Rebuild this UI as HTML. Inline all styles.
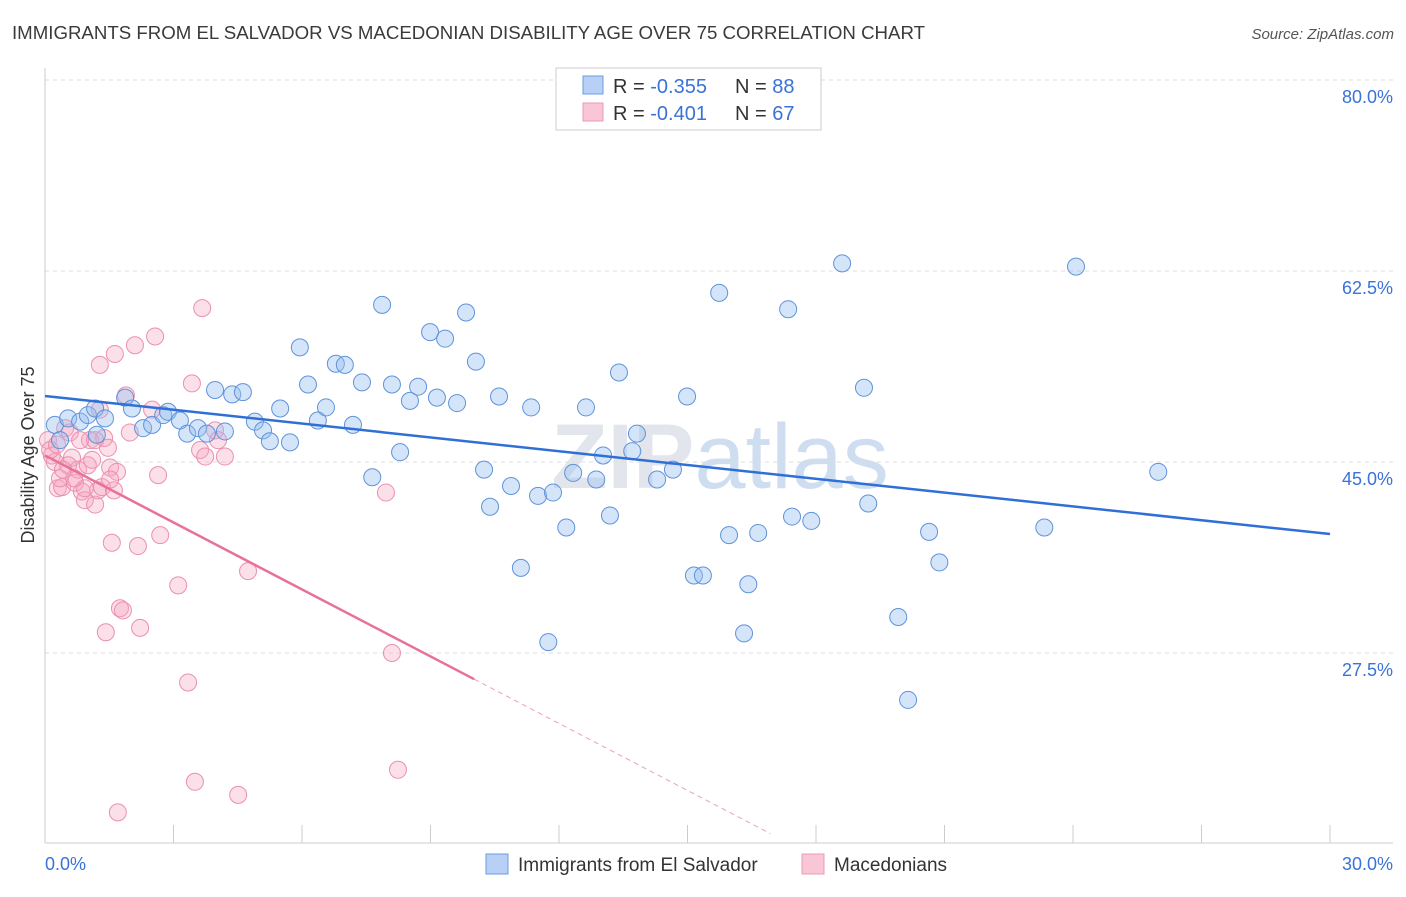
<!DOCTYPE html>
<html><head><meta charset="utf-8"><style>
body{margin:0;background:#fff;font-family:"Liberation Sans",sans-serif}
svg text{font-family:"Liberation Sans",sans-serif}
</style></head><body>
<svg id="chart" width="1406" height="892" xmlns="http://www.w3.org/2000/svg">
<text x="12" y="39" font-size="18" fill="#3a3a3a" textLength="913" lengthAdjust="spacingAndGlyphs">IMMIGRANTS FROM EL SALVADOR VS MACEDONIAN DISABILITY AGE OVER 75 CORRELATION CHART</text>
<text x="1394" y="39" font-size="15" fill="#555" font-style="italic" text-anchor="end">Source: ZipAtlas.com</text>
<text x="720" y="488" font-size="92" fill="#d3d9e3" opacity="0.65" text-anchor="middle" font-family="Liberation Serif"><tspan font-weight="bold">ZIP</tspan><tspan fill="#b5cbe8">atlas</tspan></text>
<g id="grid"></g><g id="axes"></g><g id="pinkPts"></g><g id="bluePts"></g><g id="trends"></g>
<text transform="translate(34,455) rotate(-90)" font-size="18" fill="#333" text-anchor="middle">Disability Age Over 75</text>
<g>
<rect x="556" y="68" width="265" height="62" fill="#fff" stroke="#ccc"/>
<rect x="583" y="76" width="20" height="18" fill="#b8d0f5" stroke="#6a9be0"/>
<rect x="583" y="103" width="20" height="18" fill="#f9c6d6" stroke="#e99ab5"/>
<text x="613" y="93" font-size="20" fill="#333">R = <tspan fill="#3a72d8">-0.355</tspan></text>
<text x="735" y="93" font-size="20" fill="#333">N = <tspan fill="#3a72d8">88</tspan></text>
<text x="613" y="120" font-size="20" fill="#333">R = <tspan fill="#3a72d8">-0.401</tspan></text>
<text x="735" y="120" font-size="20" fill="#333">N = <tspan fill="#3a72d8">67</tspan></text>
</g>
<g>
<rect x="486" y="854" width="22" height="20" fill="#b8d0f5" stroke="#6a9be0"/>
<text x="518" y="871" font-size="19" fill="#333">Immigrants from El Salvador</text>
<rect x="802" y="854" width="22" height="20" fill="#f9c6d6" stroke="#e99ab5"/>
<text x="834" y="871" font-size="19" fill="#333">Macedonians</text>
</g>
</svg>
<script>
const yTicks=[80,62.5,45,27.5];
const yTickLabels=["80.0%","62.5%","45.0%","27.5%"];
const xTickVals=[0,3,6,9,12,15,18,21,24,27,30];
const xEndLabels=["0.0%","30.0%"];
const blueX=[.23,.54,.35,.82,1.0,1.17,1.4,1.21,1.87,2.03,2.29,2.5,2.76,2.87,3.15,3.32,3.57,3.78,3.97,4.2,4.37,4.62,4.9,5.09,5.25,5.49,5.72,5.95,6.14,6.37,6.56,6.79,7.0,7.19,7.4,7.64,7.87,8.1,8.29,8.52,8.71,8.99,9.15,9.34,9.62,9.83,10.06,10.25,10.39,10.6,10.88,11.11,11.35,11.51,11.75,11.86,12.17,12.33,12.63,12.87,13.03,13.19,13.4,13.71,13.82,14.29,14.66,14.99,15.15,15.36,15.74,15.97,16.32,16.42,16.65,17.35,17.44,17.89,18.61,19.12,19.22,19.92,20.15,20.64,20.88,23.33,24.07,25.99];
const blueY=[48.4,49.0,47.0,48.7,49.3,49.9,49.0,47.5,50.9,49.9,48.1,48.4,49.3,49.6,48.8,47.6,48.1,47.6,51.6,47.8,51.2,51.4,48.7,47.9,46.9,49.9,46.8,55.5,52.1,48.8,50.0,54.0,53.9,48.4,52.3,43.6,59.4,52.1,45.9,50.6,51.9,56.9,50.9,56.3,50.4,58.7,54.2,44.3,40.9,51.0,42.8,35.3,50.0,41.9,28.5,42.2,39.0,44.0,50.0,43.4,45.6,40.1,53.2,46.0,47.6,43.4,44.3,51.0,34.6,34.6,60.5,38.3,29.3,33.8,38.5,59.0,40.0,39.6,63.2,51.8,41.2,30.8,23.2,38.6,35.8,39.0,62.9,44.1];
const pinkX=[.07,.16,.23,.3,.4,.35,.47,.58,.63,.7,.77,.86,.93,1.0,1.05,1.1,1.17,1.24,1.28,1.33,1.38,1.42,1.47,1.52,1.56,1.61,1.63,1.68,1.7,1.75,1.82,1.89,1.98,2.1,2.17,2.22,2.5,2.57,2.64,2.69,3.11,3.34,3.43,3.5,3.62,3.67,3.74,3.97,4.04,4.2,4.51,4.74,7.96,8.1,8.24,.12,.28,.54,.82,.93,1.17,1.28,.68,.42,1.52];
const pinkY=[47.0,45.6,45.0,42.6,42.7,43.5,48.1,47.7,45.4,43.1,44.3,42.3,41.5,44.7,47.0,45.2,41.1,42.4,53.9,42.7,47.2,29.4,46.3,44.5,37.6,42.4,54.9,44.1,12.9,31.6,31.4,51.1,47.7,55.7,37.3,29.8,49.8,56.5,43.8,38.3,33.7,24.8,52.2,15.7,46.1,59.1,45.5,47.9,47.0,45.5,14.5,35.0,42.2,27.5,16.8,46.1,46.6,44.7,47.0,42.6,47.0,49.8,43.5,44.3,43.4];
const blueTrend=[51.05,38.4];
const pinkTrend=[45.6,25.1,10.96];
const pinkTrendX=[0,10.02,16.93];

const NS="http://www.w3.org/2000/svg";
const X0=45,X1=1330,Y80=80,PX_PER=191/17.5;
function sx(v){return X0+(X1-X0)*v/30;}
function sy(v){return Y80+(80-v)*PX_PER;}
function mk(tag,attrs,parent){const e=document.createElementNS(NS,tag);for(const k in attrs)e.setAttribute(k,attrs[k]);document.getElementById(parent).appendChild(e);return e;}

yTicks.forEach((t,i)=>{
  const l=mk('line',{x1:45,x2:1393,y1:sy(t),y2:sy(t),stroke:'#ddd','stroke-dasharray':'4,4'},'grid');
  
  
  const tx=mk('text',{x:1393,y:sy(t)+23,'font-size':18,fill:'#3a72d8','text-anchor':'end'},'grid');
  tx.textContent=yTickLabels[i];
  
  
});
let a=mk('line',{x1:45,x2:45,y1:68,y2:843,stroke:'#ccc'},'axes');


a=mk('line',{x1:45,x2:1393,y1:843,y2:843,stroke:'#ccc'},'axes');


xTickVals.forEach(v=>{
  const t=mk('line',{x1:sx(v),x2:sx(v),y1:825,y2:843,stroke:'#ccc'},'axes');
  
  
});
[[0,'start'],[30,'end']].forEach((p,i)=>{
  const t=mk('text',{x:i?1393:45,y:870,'font-size':18,fill:'#3a72d8','text-anchor':p[1]},'axes');
  t.textContent=xEndLabels[i];
  
  
});
pinkX.forEach((v,i)=>{
  const c=mk('circle',{cx:sx(v),cy:sy(pinkY[i]),r:8.5,fill:'rgba(245,165,192,0.35)',stroke:'#eb8fb0','stroke-width':1},'pinkPts');
  
  
});
blueX.forEach((v,i)=>{
  const c=mk('circle',{cx:sx(v),cy:sy(blueY[i]),r:8.5,fill:'rgba(150,190,240,0.4)',stroke:'#5f93da','stroke-width':1},'bluePts');
  
  
});
let tl=mk('line',{x1:sx(0),y1:sy(blueTrend[0]),x2:sx(30),y2:sy(blueTrend[1]),stroke:'#2f6fd6','stroke-width':2.5},'trends');


tl=mk('line',{x1:sx(pinkTrendX[0]),y1:sy(pinkTrend[0]),x2:sx(pinkTrendX[1]),y2:sy(pinkTrend[1]),stroke:'#e8719a','stroke-width':2.5},'trends');


tl=mk('line',{x1:sx(pinkTrendX[1]),y1:sy(pinkTrend[1]),x2:sx(pinkTrendX[2]),y2:sy(pinkTrend[2]),stroke:'#e8a0b8','stroke-width':1,'stroke-dasharray':'5,4'},'trends');


</script>
</body></html>
